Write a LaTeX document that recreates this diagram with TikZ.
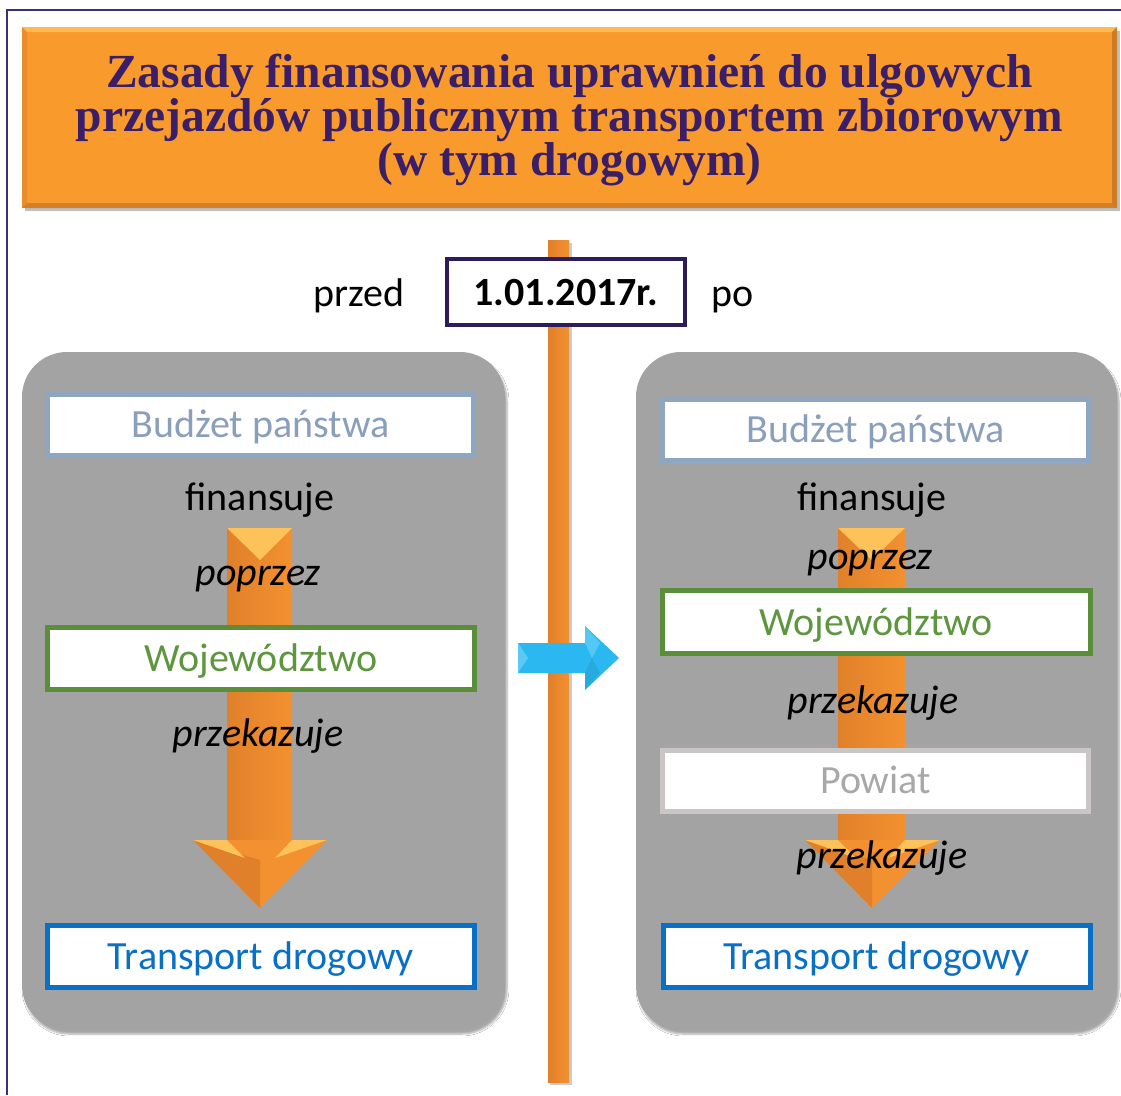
\documentclass[tikz,border=0pt]{standalone}
\usepackage{fontspec}
\setmainfont{Carlito}
\newfontfamily\titlefont{Liberation Serif}
\usetikzlibrary{shadows,shadows.blur}
\definecolor{titleorange}{HTML}{F89A2C}
\definecolor{titletext}{HTML}{3A1F68}
\definecolor{framepurple}{HTML}{3F2E7E}
\definecolor{datepurple}{HTML}{2E1B5B}
\definecolor{panelgrey}{HTML}{A3A3A3}
\definecolor{budzetc}{HTML}{8FA6C2}
\definecolor{budzett}{HTML}{8A9FBC}
\definecolor{greenc}{HTML}{5B8E3A}
\definecolor{greent}{HTML}{5E9640}
\definecolor{bluec}{HTML}{0A70C6}
\definecolor{powiatc}{HTML}{CBC6C6}
\definecolor{powiatt}{HTML}{A8A8A8}
\definecolor{arrowblue}{HTML}{2BB8F0}
\definecolor{arrowbluel}{HTML}{6FD3F7}
\definecolor{arroworange}{HTML}{F39130}
\definecolor{arrowdark}{HTML}{E0802A}
\definecolor{arrowlight}{HTML}{FDC25A}
\tikzset{
  txt/.style={font=\fontsize{40}{44}\selectfont, text height=32pt, text depth=6pt},
  boxnode/.style={draw, line width=5pt, fill=white, minimum width=426pt, minimum height=61pt, inner sep=0pt, txt},
  verbnode/.style={inner sep=0pt, txt},
  verbit/.style={inner sep=0pt, txt, font=\fontsize{40}{44}\selectfont\itshape},
  panelbox/.style={fill=panelgrey, rounded corners=45pt, blur shadow={shadow blur steps=6, shadow xshift=2pt, shadow yshift=-4pt, shadow opacity=35}},
  shaftfill/.style={left color=arrowdark, right color=arroworange, draw=none},
  headfill/.style={fill=arroworange, draw=none},
}
\begin{document}
\begin{tikzpicture}[x=1pt,y=-1pt]
\useasboundingbox (0,0) rectangle (1121,1095);
\fill[white] (0,0) rectangle (1121,1095);
% outer frame
\draw[framepurple, line width=1.5pt] (7,1095) -- (7,10) -- (1121,10);
% title box
\fill[black, opacity=0.25] (25,31) rectangle (1120,211);
\fill[titleorange] (22,27) rectangle (1117,208);
\fill[arrowlight, opacity=0.8] (22,27) -- (1117,27) -- (1112,32) -- (27,32) -- cycle;
\fill[arrowdark!80!black, opacity=0.6] (1117,27) -- (1117,208) -- (1112,203) -- (1112,32) -- cycle;
\fill[arrowdark!80!black, opacity=0.5] (22,208) -- (1117,208) -- (1112,203) -- (27,203) -- cycle;
\fill[arrowdark, opacity=0.5] (22,27) -- (27,32) -- (27,203) -- (22,208) -- cycle;
\node[font=\titlefont\bfseries\fontsize{47.5}{37}\selectfont, text=titletext, align=center, inner sep=0pt] (title) at (569.5,120)
  {Zasady finansowania uprawnień do ulgowych\\przejazdów publicznym transportem zbiorowym\\(w tym drogowym)};
% timeline bar
\fill[black, opacity=0.2] (550,243) rectangle (572,1085);
\shade[left color=arrowdark, right color=arroworange] (548,240) rectangle (569,1082);
% panels
\fill[panelbox] (22,352) rectangle (505,1030);
\fill[panelbox] (636,352) rectangle (1117,1030);
% date
\node[draw=datepurple, line width=4pt, fill=white, minimum width=238pt, minimum height=66pt, inner sep=0pt, txt, font=\fontsize{40}{44}\selectfont\bfseries] (date) at (566,292) {1.01.2017r.};
\node[verbnode] (przed) at (359,293) {przed};
\node[verbnode] (po) at (733,293) {po};
% blue arrow
\fill[arrowblue] (518,643) -- (585,643) -- (585,626) -- (619,658) -- (585,690) -- (585,673) -- (518,673) -- cycle;
\fill[arrowbluel, opacity=0.7] (518,643) -- (528,658) -- (518,673) -- cycle;
\fill[arrowbluel, opacity=0.6] (585,626) -- (600,643) -- (592,658) -- (585,643) -- cycle;
\fill[arrowblue!80!black, opacity=0.35] (585,690) -- (600,673) -- (592,658) -- (585,673) -- cycle;
% left orange arrow
\fill[shaftfill] (227,528) rectangle (292,842);
\fill[arrowlight] (227,528) -- (292,528) -- (260,560) -- cycle;
\fill[headfill] (193,840) -- (327,840) -- (260,908) -- cycle;
\fill[arrowdark] (260,908) -- (260,860) -- (193,840) -- cycle;
\fill[arrowlight] (193,840) -- (227,840) -- (245,858) -- cycle;
\fill[arrowlight] (327,840) -- (292,840) -- (275,858) -- cycle;
% right orange arrow
\fill[shaftfill] (838,528) rectangle (905,842);
\fill[arrowlight] (838,528) -- (905,528) -- (871.5,560) -- cycle;
\fill[headfill] (805,840) -- (940,840) -- (872,908) -- cycle;
\fill[arrowdark] (872,908) -- (872,860) -- (805,840) -- cycle;
\fill[arrowlight] (805,840) -- (838,840) -- (856,858) -- cycle;
\fill[arrowlight] (940,840) -- (905,840) -- (888,858) -- cycle;
% left panel nodes
\node[boxnode, draw=budzetc, text=budzett] (lbud) at (260.5,424.5) {Budżet państwa};
\node[verbnode] (lfin) at (260,497) {finansuje};
\node[verbit] (lpop) at (258,572) {poprzez};
\node[boxnode, draw=greenc, text=greent, minimum width=427pt, minimum height=62pt] (lwoj) at (261,658.5) {Województwo};
\node[verbit] (lprz) at (258,733) {przekazuje};
\node[boxnode, draw=bluec, text=bluec, minimum width=427pt, minimum height=62pt] (ltra) at (261,956.5) {Transport drogowy};
% right panel nodes
\node[boxnode, draw=budzetc, text=budzett] (rbud) at (875.5,429.5) {Budżet państwa};
\node[verbnode] (rfin) at (872,497) {finansuje};
\node[verbit] (rpop) at (870,556) {poprzez};
\node[boxnode, draw=greenc, text=greent, minimum width=428pt, minimum height=63pt] (rwoj) at (876.5,622) {Województwo};
\node[verbit] (rprz1) at (873,700) {przekazuje};
\node[boxnode, draw=powiatc, text=powiatt] (rpow) at (875.5,780.5) {Powiat};
\node[verbit] (rprz2) at (882,855) {przekazuje};
\node[boxnode, draw=bluec, text=bluec, minimum width=427pt, minimum height=62pt] (rtra) at (876.5,956.5) {Transport drogowy};
\end{tikzpicture}
\end{document}
